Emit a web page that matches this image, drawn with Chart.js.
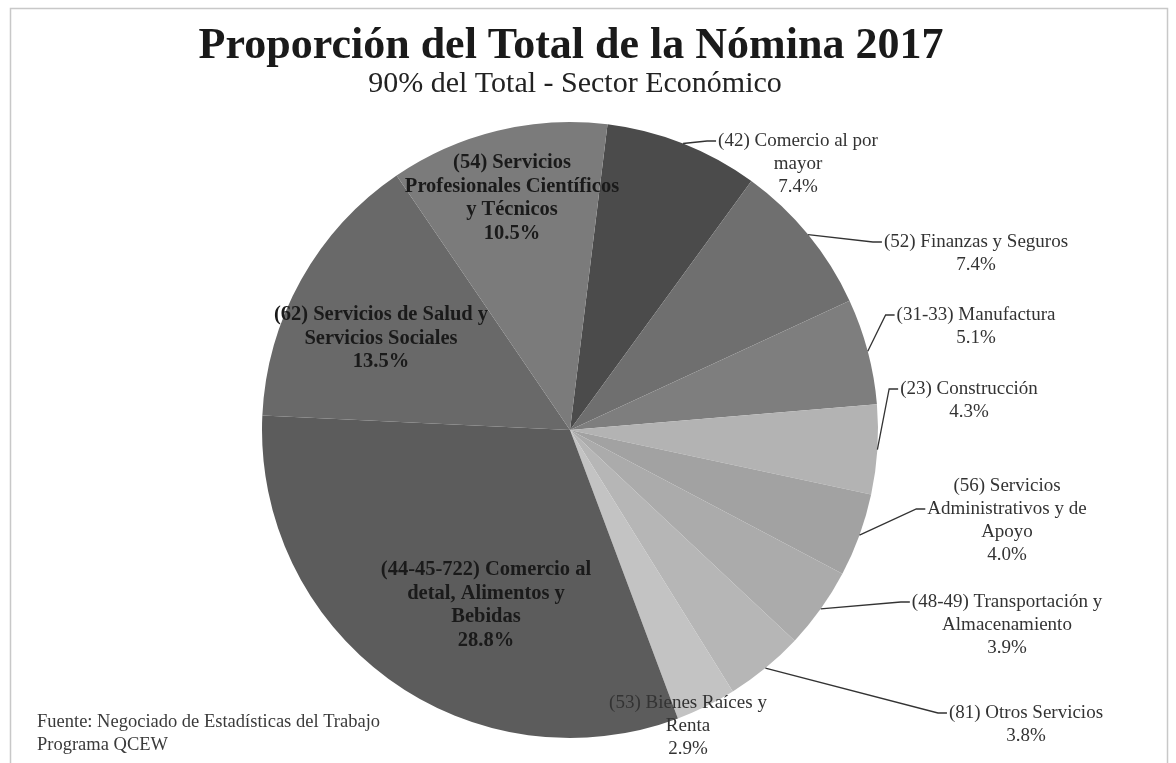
<!DOCTYPE html>
<html><head><meta charset="utf-8">
<script src="https://cdn.jsdelivr.net/npm/chart.js@4/dist/chart.umd.min.js"></script>
<style>html,body{margin:0;padding:0;background:#fff;overflow:hidden}canvas{display:block}</style>
</head><body>
<canvas id="c" width="1176" height="763"></canvas>
<script>
// ---- data ----
const categories = [
  "(42) Comercio al por mayor",
  "(52) Finanzas y Seguros",
  "(31-33) Manufactura",
  "(23) Construcción",
  "(56) Servicios Administrativos y de Apoyo",
  "(48-49) Transportación y Almacenamiento",
  "(81) Otros Servicios",
  "(53) Bienes Raíces y Renta",
  "(44-45-722) Comercio al detal, Alimentos y Bebidas",
  "(62) Servicios de Salud y Servicios Sociales",
  "(54) Servicios Profesionales Científicos y Técnicos"
];
const values = [7.4, 7.4, 5.1, 4.3, 4.0, 3.9, 3.8, 2.9, 28.8, 13.5, 10.5];
const labelNameLines = [
  ["(42) Comercio al por", "mayor"],
  ["(52) Finanzas y Seguros"],
  ["(31-33) Manufactura"],
  ["(23) Construcción"],
  ["(56) Servicios", "Administrativos y de", "Apoyo"],
  ["(48-49) Transportación y", "Almacenamiento"],
  ["(81) Otros Servicios"],
  ["(53) Bienes Raíces y", "Renta"],
  ["(44-45-722) Comercio al", "detal, Alimentos y", "Bebidas"],
  ["(62) Servicios de Salud y", "Servicios Sociales"],
  ["(54) Servicios", "Profesionales Científicos", "y Técnicos"]
];
const titleText = "Proporción del Total de la Nómina 2017";
const subtitleText = "90% del Total - Sector Económico";
const sourceLines = ["Fuente: Negociado de Estadísticas del Trabajo", "Programa QCEW"];

// ---- style / layout ----
const sliceColors = ["#4b4b4b", "#6f6f6f", "#7e7e7e", "#b3b3b3", "#a2a2a2", "#ababab", "#b6b6b6", "#c3c3c3", "#5c5c5c", "#696969", "#7b7b7b"];
// label first-line centre, offset from pie centre; leader: draw line; attach: line index to attach leader
const labelPlacement = [
  {dx: 228, dy: -289, leader: true, attach: 0},
  {dx: 406, dy: -188, leader: true, attach: 0},
  {dx: 406, dy: -115, leader: true, attach: 0},
  {dx: 399, dy: -41, leader: true, attach: 0},
  {dx: 437, dy: 56, leader: true, attach: 1},
  {dx: 437, dy: 172, leader: true, attach: 0},
  {dx: 456, dy: 283, leader: true, attach: 0},
  {dx: 118, dy: 273, leader: false, inside: false},
  {dx: -84, dy: 140, leader: false, inside: true},
  {dx: -189, dy: -115, leader: false, inside: true},
  {dx: -58, dy: -267, leader: false, inside: true}
];
const SERIF = '"Liberation Serif", "Times New Roman", "DejaVu Serif", serif';

const decorPlugin = {
  id: 'decor',
  beforeDraw(chart) {
    const ctx = chart.ctx;
    ctx.save();
    ctx.fillStyle = '#fff';
    ctx.fillRect(0, 0, chart.width, chart.height);
    ctx.strokeStyle = '#c8c8c8';
    ctx.lineWidth = 1.5;
    ctx.strokeRect(10.5, 8.5, 1157, 800);
    ctx.restore();
  },
  afterDraw(chart) {
    const ctx = chart.ctx;
    ctx.save();
    ctx.textAlign = 'center';
    ctx.textBaseline = 'middle';
    ctx.fillStyle = '#1a1a1a';
    ctx.font = 'bold 44px ' + SERIF;
    ctx.fillText(titleText, 571, 47);
    ctx.font = '30px ' + SERIF;
    ctx.fillStyle = '#222';
    ctx.fillText(subtitleText, 575, 84);
    ctx.textAlign = 'left';
    ctx.font = '18.5px ' + SERIF;
    ctx.fillStyle = '#3a3a3a';
    sourceLines.forEach((s, i) => ctx.fillText(s, 37, 722 + i * 23));
    ctx.restore();
  }
};

const labelPlugin = {
  id: 'sliceLabels',
  afterDatasetsDraw(chart) {
    const ctx = chart.ctx;
    const meta = chart.getDatasetMeta(0);
    ctx.save();
    ctx.textAlign = 'center';
    ctx.textBaseline = 'middle';
    meta.data.forEach((arc, i) => {
      const pr = arc.getProps(['x', 'y', 'startAngle', 'endAngle', 'outerRadius'], true);
      const p = labelPlacement[i];
      const lines = labelNameLines[i].concat([values[i].toFixed(1) + '%']);
      const cx = pr.x + p.dx, cy = pr.y + p.dy;
      const lh = p.inside ? 23.5 : 23;
      ctx.font = p.inside ? 'bold 20.5px ' + SERIF : '19px ' + SERIF;
      if (p.leader) {
        const mid = (pr.startAngle + pr.endAngle) / 2;
        const ex = pr.x + Math.cos(mid) * pr.outerRadius;
        const ey = pr.y + Math.sin(mid) * pr.outerRadius;
        const ly = cy + p.attach * lh;
        const w = ctx.measureText(lines[p.attach]).width;
        const lx = cx - w / 2 - 2;
        ctx.strokeStyle = '#333';
        ctx.lineWidth = 1.3;
        ctx.beginPath();
        ctx.moveTo(ex, ey);
        ctx.lineTo(lx - 9, ly);
        ctx.lineTo(lx, ly);
        ctx.stroke();
      }
      ctx.fillStyle = p.inside ? '#1a1a1a' : '#333';
      lines.forEach((t, k) => ctx.fillText(t, cx, cy + k * lh));
    });
    ctx.restore();
  }
};

new Chart(document.getElementById('c'), {
  type: 'pie',
  data: {
    labels: categories,
    datasets: [{ data: values, backgroundColor: sliceColors, borderWidth: 0, hoverOffset: 0 }]
  },
  options: {
    responsive: false,
    animation: false,
    devicePixelRatio: 1,
    rotation: 7,
    layout: { padding: { left: 262, right: 298, top: 122, bottom: 25 } },
    plugins: { legend: { display: false }, tooltip: { enabled: false }, title: { display: false } }
  },
  plugins: [decorPlugin, labelPlugin]
});
</script>
</body></html>
